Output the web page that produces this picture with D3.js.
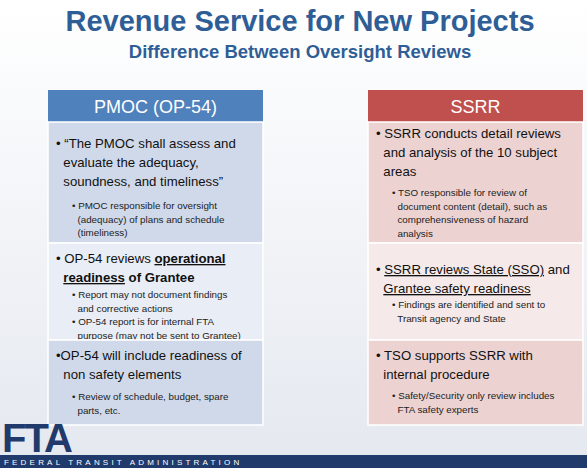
<!DOCTYPE html>
<html><head><meta charset="utf-8">
<script src="https://cdn.jsdelivr.net/npm/d3@7/dist/d3.min.js"></script>
<style>body{margin:0;background:#fff}svg{display:block}</style>
</head><body><svg id="c" width="587" height="468"></svg>
<script>
const title = "Revenue Service for New Projects";
const subtitle = "Difference Between Oversight Reviews";
const columns = ["PMOC (OP-54)", "SSRR"];
const leftCells = [
  {main:[[["• “The PMOC shall assess and",""]],[["  evaluate the adequacy,",""]],[["  soundness, and timeliness”",""]]],
   subs:[["• PMOC responsible for oversight","  (adequacy) of plans and schedule","  (timeliness)"]]},
  {main:[[["• OP-54 reviews ",""],["operational","bu"]],[["  ","",],["readiness","bu"],[" of Grantee","b"]]],
   subs:[["• Report may not document findings","  and corrective actions"],["• OP-54 report is for internal FTA","  purpose (may not be sent to Grantee)"]]},
  {main:[[["•OP-54 will include readiness of",""]],[["  non safety elements",""]]],
   subs:[["• Review of schedule, budget, spare","  parts, etc."]]}
];
const rightCells = [
  {main:[[["• SSRR conducts detail reviews",""]],[["  and analysis of the 10 subject",""]],[["  areas",""]]],
   subs:[["• TSO responsible for review of","  document content (detail), such as","  comprehensiveness of hazard","  analysis"]]},
  {main:[[["• ",""],["SSRR reviews State (SSO)","u"],[" and",""]],[["  ",""],["Grantee safety readiness","u"]]],
   subs:[["• Findings are identified and sent to","  Transit agency and State"]]},
  {main:[[["• TSO supports SSRR with",""]],[["  internal procedure",""]]],
   subs:[["• Safety/Security only review includes","  FTA safety experts"]]}
];
const rowBounds = [122, 243, 340, 425];
const mainStart = [[148,263,360],[138,274,360]];
const subStart = [[209,298,400],[196,308,399]];

const svg = d3.select("#c");
const defs = svg.append("defs");
const g = defs.append("linearGradient").attr("id","bg").attr("x1",0).attr("y1",0).attr("x2",0).attr("y2",1);
g.append("stop").attr("offset",0).attr("stop-color","#ffffff");
g.append("stop").attr("offset",1).attr("stop-color","#e4e8ef");
svg.append("rect").attr("width",587).attr("height",468).attr("fill","url(#bg)");

svg.append("text").attr("x",300).attr("y",31).attr("text-anchor","middle").attr("font-weight","bold")
  .attr("font-family","Liberation Sans, Arial").attr("font-size",29).attr("fill","#2f5e96").text(title);
svg.append("text").attr("x",300).attr("y",58).attr("text-anchor","middle").attr("font-weight","bold")
  .attr("font-family","Liberation Sans, Arial").attr("font-size",18.5).attr("fill","#2f5e96").text(subtitle);

const colW = 215;
const colX = [48, 368];
const styles = [
  {head:"#4f81bd", fills:["#d0d9ea","#e9edf5","#d0d9ea"]},
  {head:"#c0504d", fills:["#ecd3d2","#f5e9e9","#ecd3d2"]}
];
const font = "Liberation Sans, Arial";
[leftCells, rightCells].forEach((cells, ci) => {
  const cx = colX[ci];
  svg.append("rect").attr("x",cx).attr("y",90).attr("width",colW).attr("height",32).attr("fill",styles[ci].head);
  svg.append("text").attr("x",cx+colW/2).attr("y",113).attr("text-anchor","middle")
    .attr("font-family","Liberation Sans, Arial").attr("font-size",18).attr("fill","#fff").text(columns[ci]);
  cells.forEach((cell, ri) => {
    svg.append("rect").attr("x",cx).attr("y",rowBounds[ri]).attr("width",colW)
      .attr("height",rowBounds[ri+1]-rowBounds[ri]).attr("fill",styles[ci].fills[ri])
      .attr("stroke","#fff").attr("stroke-width",1.5);
    cell.main.forEach((line, li) => {
      const t = svg.append("text").attr("x",cx+8).attr("y",mainStart[ci][ri]+li*19)
        .attr("font-family",font).attr("font-size",13.2).attr("fill","#111").attr("xml:space","preserve")
        .attr("textLength", null);
      line.forEach(([s,st]) => {
        t.append("tspan").text(s)
          .attr("font-weight",st.includes("b")?"bold":null)
          .attr("text-decoration",st.includes("u")?"underline":null);
      });
      const w = t.node().getComputedTextLength();
      if (w > colW - 12) t.attr("textLength", colW - 12).attr("lengthAdjust","spacingAndGlyphs");
    });
    let y = subStart[ci][ri];
    cell.subs.forEach(grp => {
      grp.forEach(s => {
        svg.append("text").attr("x",cx+24).attr("y",y).attr("font-family",font)
          .attr("font-size",9.8).attr("fill","#222").attr("xml:space","preserve").text(s);
        y += 13.5;
      });
    });
  });
});

svg.append("text").attr("x",2).attr("y",452).attr("font-family","Liberation Sans, Arial")
  .attr("font-weight","bold").attr("font-size",40).attr("fill","#1f3a6b").attr("letter-spacing",-2).text("FTA");
svg.append("rect").attr("x",0).attr("y",455).attr("width",587).attr("height",13).attr("fill","#1f3a6b");
svg.append("text").attr("x",4).attr("y",465).attr("font-family","Liberation Sans, Arial")
  .attr("font-size",8).attr("fill","#fff").attr("letter-spacing",3.2).text("FEDERAL TRANSIT ADMINISTRATION");
</script></body></html>
